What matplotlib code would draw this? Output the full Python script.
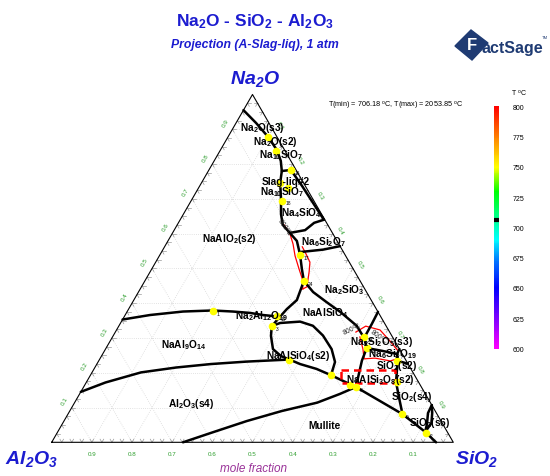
import numpy as np
import matplotlib
matplotlib.use('Agg')
import matplotlib.pyplot as plt
from matplotlib.colors import LinearSegmentedColormap, Normalize
from matplotlib.cm import ScalarMappable
from matplotlib.patches import Polygon

plt.rcParams['font.family'] = ['Liberation Sans', 'DejaVu Sans']
plt.rcParams['mathtext.default'] = 'regular'

# All compositions are mole fractions written as (Na2O, SiO2); Al2O3 is the rest
line_a = [(0.955, 0.000), (0.918, 0.050), (0.878, 0.100), (0.840, 0.141)]
valley_b = [(0.840, 0.141), (0.809, 0.166), (0.780, 0.183), (0.746, 0.196), (0.700, 0.221),
            (0.656, 0.243), (0.625, 0.263), (0.602, 0.292), (0.579, 0.321), (0.539, 0.349),
            (0.498, 0.374), (0.464, 0.396), (0.409, 0.406), (0.383, 0.394), (0.361, 0.388)]
line_l1 = [(0.353, 0.000), (0.366, 0.062), (0.376, 0.139), (0.379, 0.211), (0.376, 0.263),
           (0.372, 0.308), (0.366, 0.343), (0.361, 0.388)]
loop_left = [(0.361, 0.388), (0.334, 0.381), (0.306, 0.393), (0.268, 0.417), (0.248, 0.447),
             (0.238, 0.473)]
loop_top = [(0.334, 0.381), (0.343, 0.397), (0.347, 0.445), (0.335, 0.483), (0.307, 0.522),
            (0.268, 0.563), (0.231, 0.590), (0.193, 0.599)]
line_l2 = [(0.145, 0.000), (0.172, 0.048), (0.201, 0.122), (0.215, 0.202), (0.225, 0.284),
           (0.232, 0.369), (0.238, 0.473), (0.225, 0.506), (0.211, 0.554), (0.193, 0.599),
           (0.159, 0.678), (0.081, 0.833), (0.030, 0.915), (0.000, 0.957)]
line_l3 = [(0.000, 0.327), (0.027, 0.383), (0.061, 0.455), (0.090, 0.528), (0.114, 0.604),
           (0.139, 0.648), (0.159, 0.678)]
line_c = [(0.780, 0.183), (0.783, 0.204), (0.737, 0.255), (0.671, 0.325), (0.640, 0.358)]
line_d = [(0.602, 0.292), (0.610, 0.326), (0.631, 0.338), (0.640, 0.358)]
line_f = [(0.547, 0.345), (0.554, 0.399), (0.564, 0.436)]
line_n = [(0.464, 0.396), (0.432, 0.435), (0.403, 0.483), (0.375, 0.531), (0.335, 0.592),
          (0.300, 0.628)]
line_e = [(0.375, 0.625), (0.340, 0.627), (0.300, 0.628), (0.271, 0.649)]
line_j4_down = [(0.271, 0.649), (0.235, 0.655), (0.192, 0.668), (0.159, 0.678)]
line_j4_j5 = [(0.271, 0.649), (0.263, 0.691), (0.254, 0.733), (0.268, 0.732)]
line_j5_j6 = [(0.254, 0.733), (0.234, 0.745), (0.226, 0.774)]
sio2_vert = [(0.234, 0.745), (0.205, 0.757), (0.173, 0.771), (0.125, 0.803), (0.081, 0.833)]
s6_left = [(0.107, 0.893), (0.084, 0.895), (0.053, 0.908), (0.030, 0.915)]
s6_right = [(0.107, 0.893), (0.085, 0.905), (0.055, 0.918), (0.030, 0.915)]

boundaries = [line_a, valley_b, line_l1, loop_left, loop_top, line_l2, line_l3, line_c,
              line_d, line_f, line_n, line_e, line_j4_down, line_j4_j5, line_j5_j6,
              sio2_vert, s6_left, s6_right]

# 800 C isotherms (red)
red_1 = [(0.625, 0.266), (0.599, 0.294), (0.570, 0.316), (0.536, 0.338), (0.498, 0.367),
         (0.470, 0.389), (0.441, 0.405)]
red_2 = [(0.562, 0.343), (0.541, 0.363), (0.518, 0.384), (0.490, 0.396), (0.447, 0.412),
         (0.441, 0.405)]
red_3 = [(0.317, 0.599), (0.334, 0.615), (0.323, 0.656), (0.291, 0.697), (0.263, 0.731)]
red_4 = [(0.303, 0.616), (0.268, 0.641), (0.240, 0.658), (0.242, 0.684), (0.234, 0.726),
         (0.240, 0.740)]
isotherms = [red_1, red_2, red_3, red_4]

# dashed red box around the albite field
albite_box = [(0.2085, 0.615), (0.2085, 0.751), (0.1705, 0.770), (0.1705, 0.634), (0.2085, 0.615)]

# invariant points (yellow) and their numbers
inv_points = [(0.877, 0.101), (0.838, 0.139), (0.783, 0.204), (0.746, 0.196), (0.730, 0.224),
              (0.695, 0.225), (0.539, 0.349), (0.464, 0.396), (0.378, 0.212), (0.362, 0.381),
              (0.334, 0.381), (0.238, 0.473), (0.193, 0.599), (0.302, 0.627), (0.271, 0.649),
              (0.159, 0.678), (0.173, 0.773), (0.235, 0.742), (0.081, 0.833), (0.027, 0.919),
              (0.165, 0.661)]
inv_ids = ['', '', '16', '', '', '18', '17', '24', '1', '19', '3', '', '', '23', '22', '8',
           '', '', '9', '2', '']

# phase field labels
field_names = ['Na$_2$O(s3)', 'Na$_2$O(s2)', 'Na$_{10}$SiO$_7$', 'Slag-liq#2', 'Na$_{10}$SiO$_7$',
               'Na$_4$SiO$_4$', 'Na$_6$Si$_2$O$_7$', 'NaAlO$_2$(s2)', 'Na$_2$SiO$_3$',
               'NaAlSiO$_4$', 'Na$_2$Al$_{12}$O$_{19}$', 'NaAl$_9$O$_{14}$', 'NaAlSiO$_4$(s2)',
               'Na$_2$Si$_2$O$_5$(s3)', 'Na$_6$Si$_8$O$_{19}$', 'SiO$_2$(s2)',
               'NaAlSi$_3$O$_8$(s2)', 'SiO$_2$(s4)', 'Al$_2$O$_3$(s4)', 'Mullite', 'SiO$_2$(s6)']
field_pos = [(0.907, 0.070), (0.866, 0.123), (0.829, 0.157), (0.752, 0.207), (0.723, 0.212),
             (0.663, 0.289), (0.579, 0.386), (0.587, 0.150), (0.441, 0.507), (0.375, 0.493),
             (0.366, 0.341), (0.283, 0.188), (0.251, 0.488), (0.292, 0.676), (0.257, 0.719),
             (0.223, 0.748), (0.182, 0.728), (0.132, 0.830), (0.114, 0.291), (0.051, 0.655),
             (0.058, 0.913)]

# isotherm labels: position and angle
iso_label_pos = [(0.620, 0.270), (0.328, 0.585), (0.305, 0.663)]
iso_label_rot = [-55, 25, -35]

tick_vals = [0.1, 0.2, 0.3, 0.4, 0.5, 0.6, 0.7, 0.8, 0.9]
temps = [600, 625, 650, 675, 700, 725, 750, 775, 800]
t_min = 706.18
t_max = 2053.85

BLUE = '#1c1cd0'
GREEN = '#2e9e2e'
R3 = np.sqrt(3) / 2.0


def to_xy(pts):
    pts = np.asarray(pts, dtype=float)
    na, si = pts[:, 0], pts[:, 1]
    return si + na / 2.0, na * R3


fig = plt.figure(figsize=(5.5, 4.77), dpi=100)
ax = fig.add_axes([0, 0, 1, 1])
ax.set_xlim(-0.1287, 1.2408)
ax.set_ylim(-0.0839, 1.1038)
ax.axis('off')

# dotted grid
for v in tick_vals:
    for seg in ([(v, 0), (v, 1 - v)], [(0, v), (1 - v, v)], [(1 - v, 0), (0, 1 - v)]):
        x, y = to_xy(seg)
        ax.plot(x, y, color='#d2d2d2', lw=0.55, ls=(0, (1, 1.8)), zorder=1)

# small v-shaped ticks on the three edges
minor = np.linspace(0, 1, 41)[1:-1]
L = 0.009
for f in minor:
    # base (Al2O3-SiO2)
    x0, y0 = f, 0.0
    for dx, dy in ((0.5, R3), (-0.5, R3)):
        ax.plot([x0, x0 + L * dx], [y0, y0 + L * dy], color='#9a9a9a', lw=0.5, zorder=1)
    # left edge (Al2O3-Na2O)
    x0, y0 = f / 2, f * R3
    for dx, dy in ((1.0, 0.0), (0.5, -R3)):
        ax.plot([x0, x0 + L * dx], [y0, y0 + L * dy], color='#9a9a9a', lw=0.5, zorder=1)
    # right edge (SiO2-Na2O)
    x0, y0 = 1 - f / 2, f * R3
    for dx, dy in ((-1.0, 0.0), (-0.5, -R3)):
        ax.plot([x0, x0 + L * dx], [y0, y0 + L * dy], color='#9a9a9a', lw=0.5, zorder=1)

# triangle outline
x, y = to_xy([(0, 0), (0, 1), (1, 0), (0, 0)])
ax.plot(x, y, color='black', lw=0.8, zorder=2)

# axis tick labels (green)
for v in tick_vals:
    x, y = to_xy([(v, 0)])
    ax.text(x[0] - 0.0174, y[0] + 0.0174, f'{v:.1f}', color=GREEN, fontsize=4.5,
            rotation=60, ha='center', va='center')
    x, y = to_xy([(1 - v, v)])
    ax.text(x[0] + 0.0187, y[0] + 0.010, f'{v:.1f}', color=GREEN, fontsize=4.5,
            rotation=-60, ha='center', va='center')
    x, y = to_xy([(0, 1 - v)])
    ax.text(x[0], y[0] - 0.0286, f'{v:.1f}', color=GREEN, fontsize=4.5,
            ha='center', va='center')

# isotherms
for line in isotherms:
    x, y = to_xy(line)
    ax.plot(x, y, color='red', lw=0.9, zorder=2.5)
for pos, rot in zip(iso_label_pos, iso_label_rot):
    x, y = to_xy([pos])
    ax.text(x[0], y[0], '800$^o$C', fontsize=4.8, rotation=rot, ha='center', va='center',
            color='#222222', zorder=5)

# phase boundaries
for line in boundaries:
    x, y = to_xy(line)
    ax.plot(x, y, color='black', lw=1.8, solid_capstyle='round', zorder=3)

x, y = to_xy(albite_box)
ax.plot(x, y, color='red', lw=1.8, ls=(0, (3, 2)), zorder=3.5)

# invariant points
x, y = to_xy(inv_points)
ax.plot(x, y, 'o', color='#ffff00', ms=5.5, mec='none', zorder=4)
for xi, yi, t in zip(x, y, inv_ids):
    if t:
        ax.text(xi + 0.009, yi - 0.006, t, fontsize=3.5, ha='left', va='center', zorder=5)

# phase field names
for name, pos in zip(field_names, field_pos):
    x, y = to_xy([pos])
    ax.text(x[0], y[0], name, fontsize=7.3, fontweight='bold', ha='center', va='center',
            zorder=6)

# corner labels
corner_style = dict(fontsize=14, fontweight='bold', style='italic', color=BLUE,
                    ha='center', va='center')
ax.text(0.506, 0.906, 'Na$_2$O', **corner_style)
ax.text(-0.050, -0.039, 'Al$_2$O$_3$', **corner_style)
ax.text(1.059, -0.039, 'SiO$_2$', **corner_style)
fig.text(253.5 / 550, 1 - 469 / 477, 'mole fraction', style='italic', color='#9a3399',
         fontsize=8.5, ha='center', va='center')

# titles
fig.text(0.4636, 0.954, 'Na$_2$O - SiO$_2$ - Al$_2$O$_3$', fontsize=12.5, fontweight='bold',
         color=BLUE, ha='center', va='center')
fig.text(0.4636, 0.9057, 'Projection (A-Slag-liq), 1 atm', fontsize=8.8, fontweight='bold',
         style='italic', color=BLUE, ha='center', va='center')
fig.text(0.5964, 0.7784, f'T(min) = {t_min} $^o$C, T(max) = {t_max} $^o$C', fontsize=5.2,
         ha='left', va='center')

# temperature colour bar
cmap = LinearSegmentedColormap.from_list('factsage', [
    (0.0, '#ff00ff'), (0.12, '#8000ff'), (0.25, '#0000ff'), (0.37, '#0080ff'),
    (0.45, '#00ffff'), (0.55, '#00ff80'), (0.65, '#00ff00'), (0.75, '#ffff00'),
    (0.875, '#ff8000'), (1.0, '#ff0000')])
cax = fig.add_axes([494.3 / 550, 1 - 349.5 / 477, 4.7 / 550, 242.2 / 477])
cb = fig.colorbar(ScalarMappable(norm=Normalize(temps[0], temps[-1]), cmap=cmap),
                  cax=cax, ticks=temps)
cb.outline.set_visible(False)
cax.tick_params(length=0, labelsize=5, pad=10)
cax.axhline(t_min, color='black', lw=3)
fig.text(519 / 550, 1 - 93 / 477, 'T $^o$C', fontsize=5, ha='center', va='center')

# FactSage logo
navy = '#1f3b73'
diamond = [(455 / 550, 1 - 47 / 477), (471 / 550, 1 - 31 / 477),
           (488 / 550, 1 - 44 / 477), (472 / 550, 1 - 61 / 477)]
fig.patches.append(Polygon(diamond, closed=True, color=navy, transform=fig.transFigure,
                           figure=fig))
fig.text(472 / 550, 1 - 46 / 477, 'F', color='white', fontsize=12, fontweight='bold',
         ha='center', va='center')
fig.text(482 / 550, 1 - 48 / 477, 'actSage', color=navy, fontsize=11.5, fontweight='bold',
         ha='left', va='center')
fig.text(545 / 550, 1 - 38 / 477, 'TM', color=navy, fontsize=3, ha='center', va='center')

fig.savefig('out.png', dpi=100)
